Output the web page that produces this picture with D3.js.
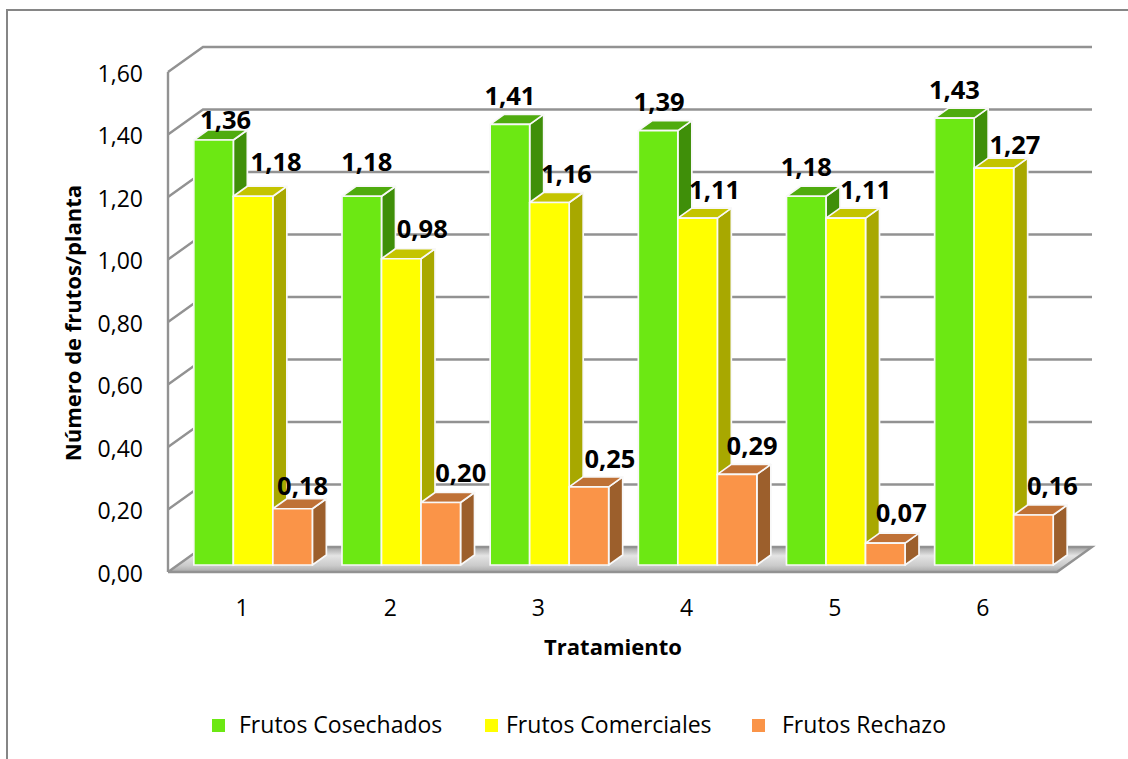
<!DOCTYPE html>
<html>
<head>
<meta charset="utf-8">
<script src="https://cdn.jsdelivr.net/npm/d3@7"></script>
<style>
  html, body { margin: 0; padding: 0; background: #fff; }
  svg { display: block; }
  text { font-family: "Open Sans", Lato, sans-serif; fill: #000; }
</style>
</head>
<body>
<svg id="chart"></svg>
<script>
const tratamientos = ["1", "2", "3", "4", "5", "6"];
const seriesNames = ["Frutos Cosechados", "Frutos Comerciales", "Frutos Rechazo"];
const cosechados = [1.36, 1.18, 1.41, 1.39, 1.18, 1.43];
const comerciales = [1.18, 0.98, 1.16, 1.11, 1.11, 1.27];
const rechazo = [0.18, 0.20, 0.25, 0.29, 0.07, 0.16];
const yTicks = [0, 0.2, 0.4, 0.6, 0.8, 1.0, 1.2, 1.4, 1.6];

// labels were dragged by hand in the original, so each has its own nudge [dx, dy]
const labelNudges = [
    [[12, -11], [5, -25], [0, -19], [1, -20], [0, -20], [0, -19]],
    [[23, -25], [21, -21], [17, -20], [17, -19], [20, -19], [21, -14]],
    [[10, -14], [20, -21], [21, -19], [15, -19], [16, -21], [19, -20]]
];

const width = 1128, height = 759;
const margin = { left: 168, right: 71, top: 72, bottom: 187 };
const wall = { dx: 35, dy: -25 };   // depth of the 3D box
const bar = { dx: 14, dy: -10, shiftX: 11, shiftY: -7 };  // depth of the bars

const colors = [
    { front: "#6CE813", side: "#3F8F09", top: "#4FAB0E" },
    { front: "#FFFF00", side: "#A8A800", top: "#C4C400" },
    { front: "#FA9448", side: "#9C5F2C", top: "#BF7136" }
];

const svg = d3.select("#chart").attr("width", width).attr("height", height);

const x = d3.scaleBand()
    .domain(tratamientos)
    .range([margin.left, width - margin.right])
    .paddingInner(0.2)
    .paddingOuter(0.1);

const xSeries = d3.scaleBand()
    .domain(d3.range(3))
    .range([0, x.bandwidth()]);

const y = d3.scaleLinear()
    .domain([0, 1.6])
    .range([height - margin.bottom, margin.top]);

const locale = d3.formatLocale({ decimal: ",", thousands: ".", grouping: [3], currency: ["", ""] });
const fmt = locale.format(".2f");

// floor gradient
const defs = svg.append("defs");
const floorGrad = defs.append("linearGradient")
    .attr("id", "floorGrad").attr("x1", 0).attr("y1", 0).attr("x2", 0).attr("y2", 1);
floorGrad.append("stop").attr("offset", "0%").attr("stop-color", "#a0a0a0");
floorGrad.append("stop").attr("offset", "35%").attr("stop-color", "#e4e4e4");
floorGrad.append("stop").attr("offset", "75%").attr("stop-color", "#cacaca");
floorGrad.append("stop").attr("offset", "100%").attr("stop-color", "#a8a8a8");

// chart frame, only top and left show in the picture
svg.append("path")
    .attr("d", `M7,${height}V10H${width}`)
    .attr("fill", "none")
    .attr("stroke", "#868686")
    .attr("stroke-width", 2);

const x0 = margin.left, x1 = width - margin.right;
const gridColor = "#929292";

// walls and gridlines
const grid = svg.append("g").attr("fill", "none").attr("stroke", gridColor).attr("stroke-width", 2.4);
yTicks.slice(1).forEach(t => {
    grid.append("path")
        .attr("d", `M${x0},${y(t)}L${x0 + wall.dx},${y(t) + wall.dy}H${x1 + wall.dx}`);
});
grid.append("path").attr("d", `M${x0},${y(1.6)}V${y(0)}`);

// floor
svg.append("path")
    .attr("d", `M${x0},${y(0)}L${x0 + wall.dx},${y(0) + wall.dy}H${x1 + wall.dx}L${x1},${y(0)}Z`)
    .attr("fill", "url(#floorGrad)");
svg.append("path")
    .attr("d", `M${x0},${y(0)}L${x0 + wall.dx},${y(0) + wall.dy}H${x1 + wall.dx}L${x1},${y(0)}H${x0}`)
    .attr("fill", "none")
    .attr("stroke", gridColor)
    .attr("stroke-width", 2.4);

// bars
const seriesData = [cosechados, comerciales, rechazo];
tratamientos.forEach((t, i) => {
    seriesData.forEach((values, s) => {
        const v = values[i];
        const bx = x(t) + xSeries(s) + bar.shiftX;
        const bw = xSeries.bandwidth();
        const by = y(v) + bar.shiftY;
        const base = y(0) + bar.shiftY;
        const g = svg.append("g").attr("stroke", "#f8f8f8").attr("stroke-width", 1.7).attr("stroke-linejoin", "round");
        g.append("path")
            .attr("d", `M${bx + bw},${by}l${bar.dx},${bar.dy}V${base + bar.dy}l${-bar.dx},${-bar.dy}Z`)
            .attr("fill", colors[s].side);
        g.append("path")
            .attr("d", `M${bx},${by}l${bar.dx},${bar.dy}h${bw}l${-bar.dx},${-bar.dy}Z`)
            .attr("fill", colors[s].top);
        g.append("rect")
            .attr("x", bx).attr("y", by)
            .attr("width", bw).attr("height", base - by)
            .attr("fill", colors[s].front);
    });
});

// value labels go above everything
seriesData.forEach((values, s) => {
    values.forEach((v, i) => {
        const cx = x(tratamientos[i]) + xSeries(s) + bar.shiftX + xSeries.bandwidth() / 2;
        const nudge = labelNudges[s][i];
        svg.append("text")
            .attr("x", cx + nudge[0])
            .attr("y", y(v) + bar.shiftY + nudge[1])
            .attr("text-anchor", "middle")
            .attr("font-size", 25.5)
            .attr("font-weight", 700)
            .text(fmt(v));
    });
});

// y axis
const yAxis = svg.append("g")
    .attr("transform", `translate(${margin.left - 25},2)`)
    .call(d3.axisLeft(y).tickValues(yTicks).tickFormat(fmt).tickSize(0).tickPadding(0));
yAxis.select(".domain").remove();
yAxis.selectAll("text").attr("font-size", 23).style("font-family", "'Open Sans', sans-serif");

// x axis labels
const xAxis = svg.append("g")
    .attr("transform", `translate(0,${y(0) + 28})`)
    .call(d3.axisBottom(x).tickSize(0).tickPadding(0));
xAxis.select(".domain").remove();
xAxis.selectAll("text").attr("font-size", 23).style("font-family", "'Open Sans', sans-serif");

// axis titles
svg.append("text")
    .attr("transform", "translate(81,323) rotate(-90)")
    .attr("text-anchor", "middle")
    .attr("font-size", 22)
    .attr("font-weight", 700)
    .text("Número de frutos/planta");
svg.append("text")
    .attr("x", 613).attr("y", 655)
    .attr("text-anchor", "middle")
    .attr("font-size", 22)
    .attr("font-weight", 700)
    .text("Tratamiento");

// legend
const legendSwatchX = [212, 485, 752];
const legendTextX = [239, 506, 782];
seriesNames.forEach((name, s) => {
    svg.append("rect")
        .attr("x", legendSwatchX[s]).attr("y", 719)
        .attr("width", 13).attr("height", 13)
        .attr("fill", colors[s].front);
    svg.append("text")
        .attr("x", legendTextX[s]).attr("y", 733)
        .attr("font-size", 23)
        .text(name);
});
</script>
</body>
</html>
